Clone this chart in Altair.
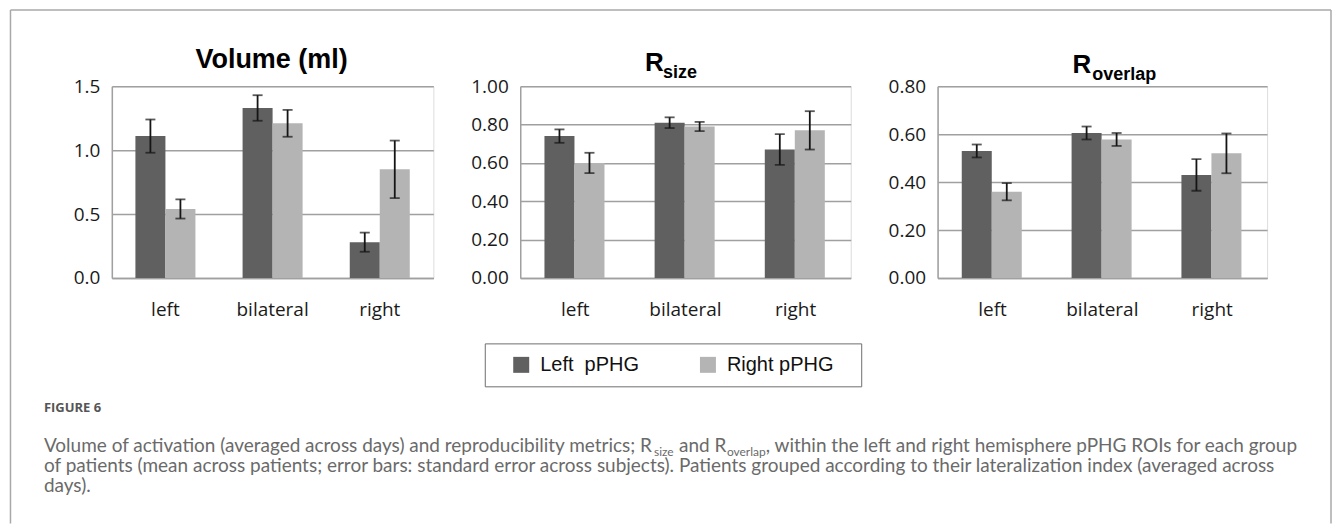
import altair as alt
import pandas as pd

groups = ["left", "bilateral", "right"]
hemis = ["Left\u00a0 pPHG", "Right pPHG"]

vol_left = [1.11, 1.33, 0.28]
vol_left_se = [0.13, 0.10, 0.075]
vol_right = [0.54, 1.21, 0.85]
vol_right_se = [0.075, 0.105, 0.225]

rsize_left = [0.74, 0.81, 0.67]
rsize_left_se = [0.035, 0.028, 0.08]
rsize_right = [0.60, 0.79, 0.77]
rsize_right_se = [0.053, 0.024, 0.10]

rov_left = [0.53, 0.605, 0.43]
rov_left_se = [0.027, 0.027, 0.066]
rov_right = [0.36, 0.578, 0.52]
rov_right_se = [0.036, 0.027, 0.083]

caption_1 = ["Volume of activation (averaged across days) and reproducibility metrics; R",
             "size", "and R", "overlap",
             ", within the left and right hemisphere pPHG ROIs for each group"]
caption_2 = ("of patients (mean across patients; error bars: standard error across subjects). "
             "Patients grouped according to their lateralization index (averaged across")
caption_3 = "days)."
figure_label = "FIGURE 6"

DARK = "#606060"
LIGHT = "#b4b4b4"
GRID = "#a0a0a0"
ERR = "#151515"
TICK_FONT = "Open Sans"
TITLE_FONT = "Liberation Sans"
CAP_FONT = "Lato"
CAP_COLOR = "#6a6a6a"


def make_df(l, le, r, re):
    rows = []
    for i, g in enumerate(groups):
        rows.append(dict(group=g, hemi=hemis[0], value=l[i], lo=l[i] - le[i], hi=l[i] + le[i]))
        rows.append(dict(group=g, hemi=hemis[1], value=r[i], lo=r[i] - re[i], hi=r[i] + re[i]))
    return pd.DataFrame(rows)


def text_layer(txt, x, y, size, align="left", bold=True, font=TITLE_FONT, color="#000"):
    return alt.Chart(pd.DataFrame({"t": [txt]})).mark_text(
        font=font, fontSize=size, fontWeight="bold" if bold else "normal",
        align=align, baseline="alphabetic", color=color
    ).encode(x=alt.value(x), y=alt.value(y), text="t:N")


def panel(df, domain, ticks, fmt, width, extras):
    x = alt.X("group:N", sort=groups, title=None,
              scale=alt.Scale(paddingInner=0.44, paddingOuter=0.22),
              axis=alt.Axis(labelAngle=0, labelFont=TICK_FONT, labelFontSize=19,
                            labelColor="#1a1a1a", labelPadding=23, ticks=False,
                            domainColor=GRID, domainWidth=1.5, grid=False))
    xo = alt.XOffset("hemi:N", sort=hemis, scale=alt.Scale(paddingInner=0, paddingOuter=0))
    y = alt.Y("value:Q", title=None,
              scale=alt.Scale(domain=domain, nice=False, zero=True),
              axis=alt.Axis(values=ticks, tickCount=len(ticks), format=fmt,
                            labelFont=TICK_FONT, labelFontSize=19,
                            labelColor="#1a1a1a", labelPadding=12, ticks=False,
                            labelOverlap=False, labelFlush=False,
                            domainColor=GRID, domainWidth=1.5,
                            gridColor=GRID, gridWidth=1.5))
    base = alt.Chart(df)
    bars = base.mark_bar().encode(
        x=x, xOffset=xo, y=y,
        color=alt.Color("hemi:N", sort=hemis,
                        scale=alt.Scale(domain=hemis, range=[DARK, LIGHT]),
                        legend=alt.Legend(orient="none", legendX=400, legendY=269,
                                          direction="horizontal", title=None,
                                          symbolType="square", symbolSize=256,
                                          symbolStrokeWidth=0, labelFont=TITLE_FONT,
                                          labelFontSize=20, labelColor="#111",
                                          labelOffset=9, columnPadding=59, padding=0)),
    )
    rule = base.mark_rule(color=ERR, strokeWidth=1.8).encode(
        x=x, xOffset=xo, y=alt.Y("lo:Q", title=None), y2="hi:Q")
    cap_lo = base.mark_tick(color=ERR, thickness=1.8, size=10).encode(
        x=x, xOffset=xo, y=alt.Y("lo:Q", title=None))
    cap_hi = base.mark_tick(color=ERR, thickness=1.8, size=10).encode(
        x=x, xOffset=xo, y=alt.Y("hi:Q", title=None))
    return alt.layer(bars, rule, cap_lo, cap_hi, *extras).properties(width=width, height=192)


# figure frame, legend box and caption, drawn relative to the first panel's origin
dummy = alt.Chart(pd.DataFrame({"d": [0]}))
BORDER = "#a8a8a8"
frame = [
    dummy.mark_rule(color=BORDER, strokeWidth=1.5).encode(
        x=alt.value(-101.5), y=alt.value(-76.5), y2=alt.value(438)),
    dummy.mark_rule(color=BORDER, strokeWidth=1.5).encode(
        x=alt.value(1221), y=alt.value(-76.5), y2=alt.value(438)),
    dummy.mark_rule(color=BORDER, strokeWidth=1.5).encode(
        x=alt.value(-101.5), x2=alt.value(1221), y=alt.value(-76.5)),
    dummy.mark_rect(filled=False, stroke="#6e6e6e", strokeWidth=1).encode(
        x=alt.value(374), x2=alt.value(751), y=alt.value(258), y2=alt.value(301)),
]
caption = [
    text_layer(figure_label, -68, 326, 13, bold=True, font="Open Sans", color="#555"),
    text_layer(caption_1[0], -68, 366, 19, bold=False, font=CAP_FONT, color=CAP_COLOR),
    text_layer(caption_1[1], 543, 370, 12, bold=False, font=CAP_FONT, color=CAP_COLOR),
    text_layer(caption_1[2], 568, 366, 19, bold=False, font=CAP_FONT, color=CAP_COLOR),
    text_layer(caption_1[3], 616, 370, 12, bold=False, font=CAP_FONT, color=CAP_COLOR),
    text_layer(caption_1[4], 1187, 366, 19, align="right", bold=False, font=CAP_FONT, color=CAP_COLOR),
    text_layer(caption_2, -68, 386, 19, bold=False, font=CAP_FONT, color=CAP_COLOR),
    text_layer(caption_3, -68, 406, 19, bold=False, font=CAP_FONT, color=CAP_COLOR),
]

p1 = panel(make_df(vol_left, vol_left_se, vol_right, vol_right_se),
           [0, 1.5], [0, 0.5, 1.0, 1.5], ".1f", 322,
           [text_layer("Volume (ml)", 160, -18, 27, align="center")] + frame + caption)
p2 = panel(make_df(rsize_left, rsize_left_se, rsize_right, rsize_right_se),
           [0, 1.0], [0, 0.2, 0.4, 0.6, 0.8, 1.0], ".2f", 331,
           [text_layer("R", 125, -15, 26), text_layer("size", 143, -8, 18)])
p3 = panel(make_df(rov_left, rov_left_se, rov_right, rov_right_se),
           [0, 0.8], [0, 0.2, 0.4, 0.6, 0.8], ".2f", 330,
           [text_layer("R", 135, -13, 26), text_layer("overlap", 155, -6, 18)])

chart = alt.hconcat(p1, p2, p3, spacing=87, bounds="flush").properties(
    padding={"left": 9, "top": 8, "right": 0, "bottom": 0}
).configure_view(stroke=None).configure(background="white")

chart.save("out.html", embed_options={"renderer": "svg", "actions": False})
